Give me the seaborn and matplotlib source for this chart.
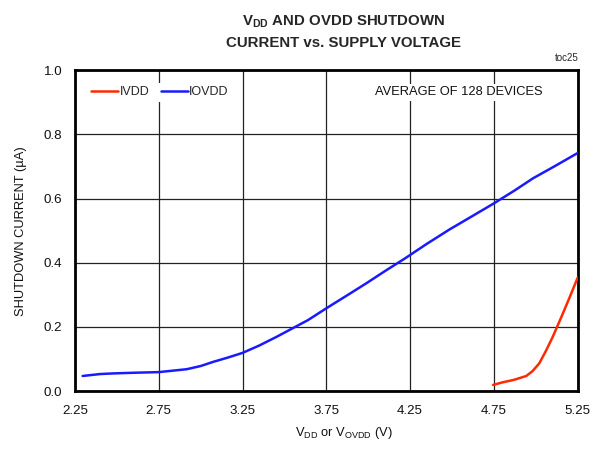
import matplotlib
matplotlib.use("Agg")
import matplotlib.pyplot as plt
from matplotlib import font_manager
import seaborn as sns
import pandas as pd

# Data
iovdd_v = [2.296, 2.40, 2.48, 2.60, 2.75, 2.916, 3.00, 3.075, 3.16, 3.25, 3.35, 3.453, 3.55, 3.64,
           3.75, 3.87, 3.989, 4.10, 4.218, 4.35, 4.486, 4.62, 4.75, 4.87, 4.983, 5.12, 5.25]
iovdd_i = [0.047, 0.053, 0.055, 0.057, 0.059, 0.068, 0.078, 0.091, 0.104, 0.119, 0.142, 0.169, 0.196, 0.221,
           0.258, 0.297, 0.336, 0.374, 0.413, 0.459, 0.504, 0.545, 0.585, 0.624, 0.663, 0.703, 0.742]
ivdd_v = [4.745, 4.80, 4.87, 4.943, 4.98, 5.02, 5.06, 5.10, 5.15, 5.20, 5.25]
ivdd_i = [0.019, 0.027, 0.035, 0.047, 0.062, 0.086, 0.125, 0.168, 0.228, 0.290, 0.354]
xticks = [2.25, 2.75, 3.25, 3.75, 4.25, 4.75, 5.25]
yticks = [0.0, 0.2, 0.4, 0.6, 0.8, 1.0]

names = {f.name for f in font_manager.fontManager.ttflist}
narrow = 'Liberation Sans Narrow' if 'Liberation Sans Narrow' in names else 'Liberation Sans'
scale = 1.0 if narrow == 'Liberation Sans Narrow' else 0.88

sns.set_style("white")
plt.rcParams['font.family'] = [narrow, 'DejaVu Sans']
plt.rcParams['mathtext.fontset'] = 'custom'
plt.rcParams['mathtext.rm'] = narrow
plt.rcParams['mathtext.bf'] = narrow + ':bold'

df = pd.concat([
    pd.DataFrame({'V': ivdd_v, 'I': ivdd_i, 'series': 'IVDD'}),
    pd.DataFrame({'V': iovdd_v, 'I': iovdd_i, 'series': 'IOVDD'}),
])

fig = plt.figure(figsize=(5.95, 4.5), dpi=100)
ax = fig.add_axes([0.126, 0.131, 0.845, 0.713])

ax.set_xlim(2.25, 5.25)
ax.set_ylim(0, 1.0)
ax.set_xticks(xticks)
ax.set_yticks(yticks)
ax.set_xticklabels([f"{t:.2f}" for t in xticks])
ax.set_yticklabels([f"{t:.1f}" for t in yticks])
ax.grid(True, color='#222222', linewidth=0.9)
ax.set_axisbelow(True)
ax.tick_params(axis='y', length=0, labelsize=11 * scale, pad=9, colors='#111111')
ax.tick_params(axis='x', length=0, labelsize=11 * scale, pad=10, colors='#111111')
for s in ax.spines.values():
    s.set_linewidth(2)
    s.set_color('black')

sns.lineplot(data=df, x='V', y='I', hue='series', palette={'IVDD': '#ff2a00', 'IOVDD': '#1a1aff'},
             linewidth=1.8, ax=ax, legend=True, zorder=3)

leg = ax.legend(loc='center left', ncol=2, frameon=True, fancybox=False, framealpha=1,
                edgecolor='white', fontsize=10.2 * scale, handlelength=2.2, handletextpad=0.1,
                columnspacing=0.9, borderpad=0.3, bbox_to_anchor=(0.012, 0.931))
leg.get_frame().set_linewidth(0)

ax.text(0.764, 0.931, "AVERAGE OF 128 DEVICES", transform=ax.transAxes, ha='center', va='center',
        fontsize=10.5 * scale, color='#111111', bbox=dict(facecolor='white', edgecolor='none', pad=2), zorder=4)

ax.set_xlabel(r"V$_{\mathrm{DD}}$ or V$_{\mathrm{OVDD}}$ (V)", fontsize=10.5 * scale, labelpad=8, color='#111111')
ax.xaxis.set_label_coords(0.535, -0.105)
ax.set_ylabel("SHUTDOWN CURRENT (µA)", fontsize=10.5 * scale, labelpad=12, color='#111111')

fig.text(0.578, 0.952, r"V$_{\mathbf{DD}}$ AND OVDD SHUTDOWN", ha='center', va='center',
         fontsize=12.3 * scale, fontweight='bold')
fig.text(0.578, 0.905, "CURRENT vs. SUPPLY VOLTAGE", ha='center', va='center',
         fontsize=12.3 * scale, fontweight='bold')
fig.text(0.972, 0.871, "toc25", ha='right', va='center', fontsize=8 * scale)

fig.savefig("out.png", dpi=100)
